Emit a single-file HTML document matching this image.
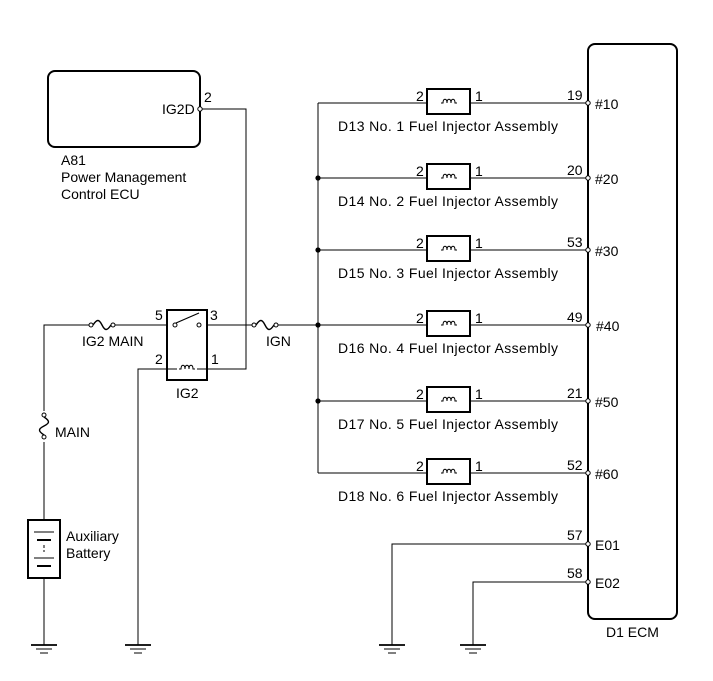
<!DOCTYPE html>
<html><head><meta charset="utf-8"><style>
html,body{margin:0;padding:0;background:#fff;}
svg{display:block;font-family:"Liberation Sans",Arial,sans-serif;font-size:14px;fill:#000;}
</style></head><body>
<svg width="713" height="681" viewBox="0 0 713 681" xmlns="http://www.w3.org/2000/svg">
<defs>
<g id="gnd" stroke="#000" fill="none"><line x1="-13" y1="0" x2="13" y2="0" stroke-width="1.8"/><line x1="-8" y1="4" x2="8" y2="4"/><line x1="-4" y1="8" x2="4" y2="8"/></g>
<g id="coil" fill="none" stroke="#000" stroke-width="1"><path d="M-8 0 h2 c0 -5 4 -5 4 0 c0 -5 4 -5 4 0 c0 -5 4 -5 4 0 h2"/></g>
<g id="fuse" fill="none" stroke="#000"><circle cx="-11" cy="0" r="2" fill="#fff"/><circle cx="11" cy="0" r="2" fill="#fff"/><path d="M-9 0 c4 -6 6 -6 9 0 c3 6 5 6 9 0" stroke-width="1.4"/></g>
</defs>
<g fill="none" stroke="#000" stroke-width="1">
<rect x="48" y="71" width="152" height="76" rx="7" stroke-width="2"/>
<polyline points="202,109 246,109 246,369 207,369"/>
<polyline points="91,325 44,325 44,411"/>
<line x1="44" y1="442" x2="44" y2="520"/>
<line x1="44" y1="578" x2="44" y2="645"/>
<line x1="113" y1="325" x2="167" y2="325"/>
<rect x="167" y="310" width="40" height="70" stroke-width="2"/>
<line x1="207" y1="325" x2="254" y2="325"/>
<line x1="276" y1="325" x2="318" y2="325"/>
<polyline points="167,369 138,369 138,645"/>
<line x1="167" y1="369" x2="177" y2="369"/><line x1="197" y1="369" x2="207" y2="369"/>
<line x1="176" y1="323" x2="199" y2="313" stroke-width="1.2"/>
<line x1="318" y1="103" x2="318" y2="473"/>
<rect x="28" y="520" width="32" height="58" stroke-width="2"/>
<line x1="34" y1="532" x2="54" y2="532"/><line x1="37" y1="540" x2="51" y2="540" stroke-width="2"/>
<line x1="44" y1="545" x2="44" y2="552" stroke-dasharray="3,2"/>
<line x1="34" y1="558" x2="54" y2="558"/><line x1="37" y1="566" x2="51" y2="566" stroke-width="2"/>
<rect x="588" y="44" width="89" height="575" rx="7" stroke-width="2"/>
<polyline points="588,544 392,544 392,645"/>
<polyline points="588,582 473,582 473,645"/>
</g>
<circle cx="200" cy="109" r="2.2" fill="#fff" stroke="#000"/>
<circle cx="175" cy="325" r="2" fill="#fff" stroke="#000"/>
<circle cx="199" cy="325" r="2" fill="#fff" stroke="#000"/>
<use href="#coil" x="187" y="369"/>
<use href="#fuse" x="102" y="325"/>
<use href="#fuse" x="265" y="325"/>
<g transform="translate(44,426) rotate(90)"><use href="#fuse"/></g>
<use href="#gnd" x="44" y="645"/><use href="#gnd" x="138" y="645"/>
<use href="#gnd" x="392" y="645"/><use href="#gnd" x="473" y="645"/>
<circle cx="318" cy="178" r="2.6"/><circle cx="318" cy="250" r="2.6"/><circle cx="318" cy="325" r="2.6"/><circle cx="318" cy="401" r="2.6"/>
<g stroke="#000" fill="none">
<line x1="318" y1="103" x2="427" y2="103"/><line x1="470" y1="103" x2="588" y2="103"/><rect x="427" y="89" width="43" height="25" stroke-width="2"/>
<line x1="318" y1="178" x2="427" y2="178"/><line x1="470" y1="178" x2="588" y2="178"/><rect x="427" y="164" width="43" height="25" stroke-width="2"/>
<line x1="318" y1="250" x2="427" y2="250"/><line x1="470" y1="250" x2="588" y2="250"/><rect x="427" y="236" width="43" height="25" stroke-width="2"/>
<line x1="318" y1="325" x2="427" y2="325"/><line x1="470" y1="325" x2="588" y2="325"/><rect x="427" y="311" width="43" height="25" stroke-width="2"/>
<line x1="318" y1="401" x2="427" y2="401"/><line x1="470" y1="401" x2="588" y2="401"/><rect x="427" y="387" width="43" height="25" stroke-width="2"/>
<line x1="318" y1="473" x2="427" y2="473"/><line x1="470" y1="473" x2="588" y2="473"/><rect x="427" y="459" width="43" height="25" stroke-width="2"/>
</g>
<use href="#coil" x="449" y="103"/><use href="#coil" x="449" y="178"/><use href="#coil" x="449" y="250"/>
<use href="#coil" x="449" y="325"/><use href="#coil" x="449" y="401"/><use href="#coil" x="449" y="473"/>
<g fill="#fff" stroke="#000">
<circle cx="588" cy="103" r="2.2"/><circle cx="588" cy="178" r="2.2"/><circle cx="588" cy="250" r="2.2"/>
<circle cx="588" cy="325" r="2.2"/><circle cx="588" cy="401" r="2.2"/><circle cx="588" cy="473" r="2.2"/>
<circle cx="588" cy="544" r="2.2"/><circle cx="588" cy="582" r="2.2"/>
</g>
<text x="162" y="114">IG2D</text><text x="204" y="102">2</text>
<text x="61" y="165">A81</text><text x="61" y="182">Power Management</text><text x="61" y="199">Control ECU</text>
<text x="82" y="346">IG2 MAIN</text><text x="266" y="346">IGN</text>
<text x="155" y="320">5</text><text x="210" y="320">3</text><text x="155" y="364">2</text><text x="211" y="364">1</text>
<text x="176" y="398">IG2</text>
<text x="55" y="437">MAIN</text>
<text x="66" y="541">Auxiliary</text><text x="66" y="558">Battery</text>
<g>
<text x="416" y="101">2</text><text x="475" y="101">1</text><text x="338" y="131" textLength="220">D13 No. 1 Fuel Injector Assembly</text><text x="567" y="100">19</text><text x="595" y="109">#10</text>
<text x="416" y="176">2</text><text x="475" y="176">1</text><text x="338" y="206" textLength="220">D14 No. 2 Fuel Injector Assembly</text><text x="567" y="175">20</text><text x="595" y="184">#20</text>
<text x="416" y="248">2</text><text x="475" y="248">1</text><text x="338" y="278" textLength="220">D15 No. 3 Fuel Injector Assembly</text><text x="567" y="247">53</text><text x="595" y="256">#30</text>
<text x="416" y="323">2</text><text x="475" y="323">1</text><text x="338" y="353" textLength="220">D16 No. 4 Fuel Injector Assembly</text><text x="567" y="322">49</text><text x="596" y="331">#40</text>
<text x="416" y="399">2</text><text x="475" y="399">1</text><text x="338" y="429" textLength="220">D17 No. 5 Fuel Injector Assembly</text><text x="567" y="398">21</text><text x="595" y="407">#50</text>
<text x="416" y="471">2</text><text x="475" y="471">1</text><text x="338" y="501" textLength="220">D18 No. 6 Fuel Injector Assembly</text><text x="567" y="470">52</text><text x="595" y="479">#60</text>
<text x="567" y="540">57</text><text x="595" y="550">E01</text>
<text x="567" y="578">58</text><text x="595" y="588">E02</text>
<text x="606" y="637">D1 ECM</text>
</g>
</svg>
</body></html>
